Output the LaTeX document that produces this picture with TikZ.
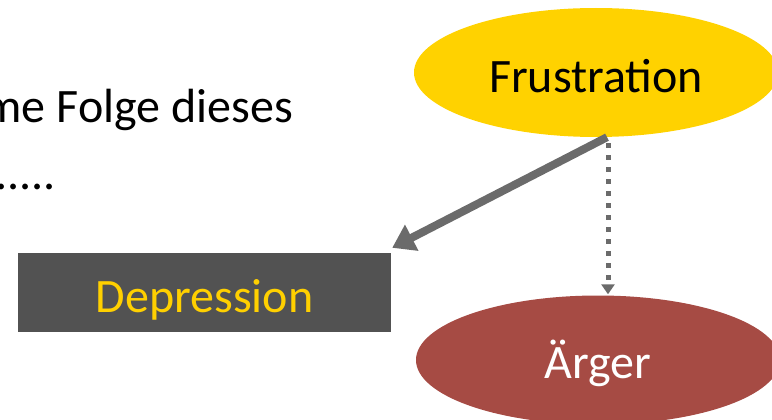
\documentclass[tikz,border=0pt]{standalone}
\usepackage{fontspec}
\setmainfont{Carlito}
\usetikzlibrary{shapes.geometric,arrows.meta,calc}
\definecolor{fyellow}{HTML}{FFD200}
\definecolor{fred}{HTML}{A64B44}
\definecolor{dgray}{HTML}{525252}
\definecolor{agray}{HTML}{6B6B6B}
\definecolor{dtext}{HTML}{FFD000}
\tikzset{
  ell/.style={ellipse, minimum width=364pt, minimum height=129pt, inner sep=0pt},
  bigtext/.style={font=\fontsize{48}{56}\selectfont},
  solidarrow/.style={draw=agray, line width=8pt, -{Triangle[length=22pt,width=28pt]}},
  dotarrow/.style={draw=agray, line width=5pt, dash pattern=on 5pt off 7pt, -{Triangle[length=10pt,width=13pt]}},
}
\begin{document}
\begin{tikzpicture}[x=1pt,y=-1pt]
\useasboundingbox (0,0) rectangle (772,420);
\clip (0,0) rectangle (772,420);
\node[ell, fill=fyellow, bigtext, text=black, text height=48pt, text depth=8pt] (F) at (596,72.5) {Frustration};
\node[ell, fill=fred, bigtext, text=white, text height=44pt, text depth=8pt] (A) at (598,360) {Ärger};
\node[rectangle, fill=dgray, minimum width=373pt, minimum height=79pt, inner sep=0pt, bigtext, text=dtext, text height=49pt, text depth=10pt] (D) at (204.5,292.5) {Depression};
\node[anchor=base east, bigtext, inner sep=0pt] (t1) at (293,122) {me Folge dieses};
\node[anchor=base east, bigtext, inner sep=0pt] (t2) at (56,189) {......};
\coordinate (s1) at ($(F.south)+(11,0)$);
\coordinate (e1) at ($(D.north east)+(1,-5)$);
\draw[solidarrow] (s1) -- (e1);
\coordinate (s2) at ($(F.south)+(12,6)$);
\coordinate (e2) at ($(A.north)+(10,-1)$);
\draw[dotarrow] (s2) -- (e2);
\end{tikzpicture}
\end{document}
